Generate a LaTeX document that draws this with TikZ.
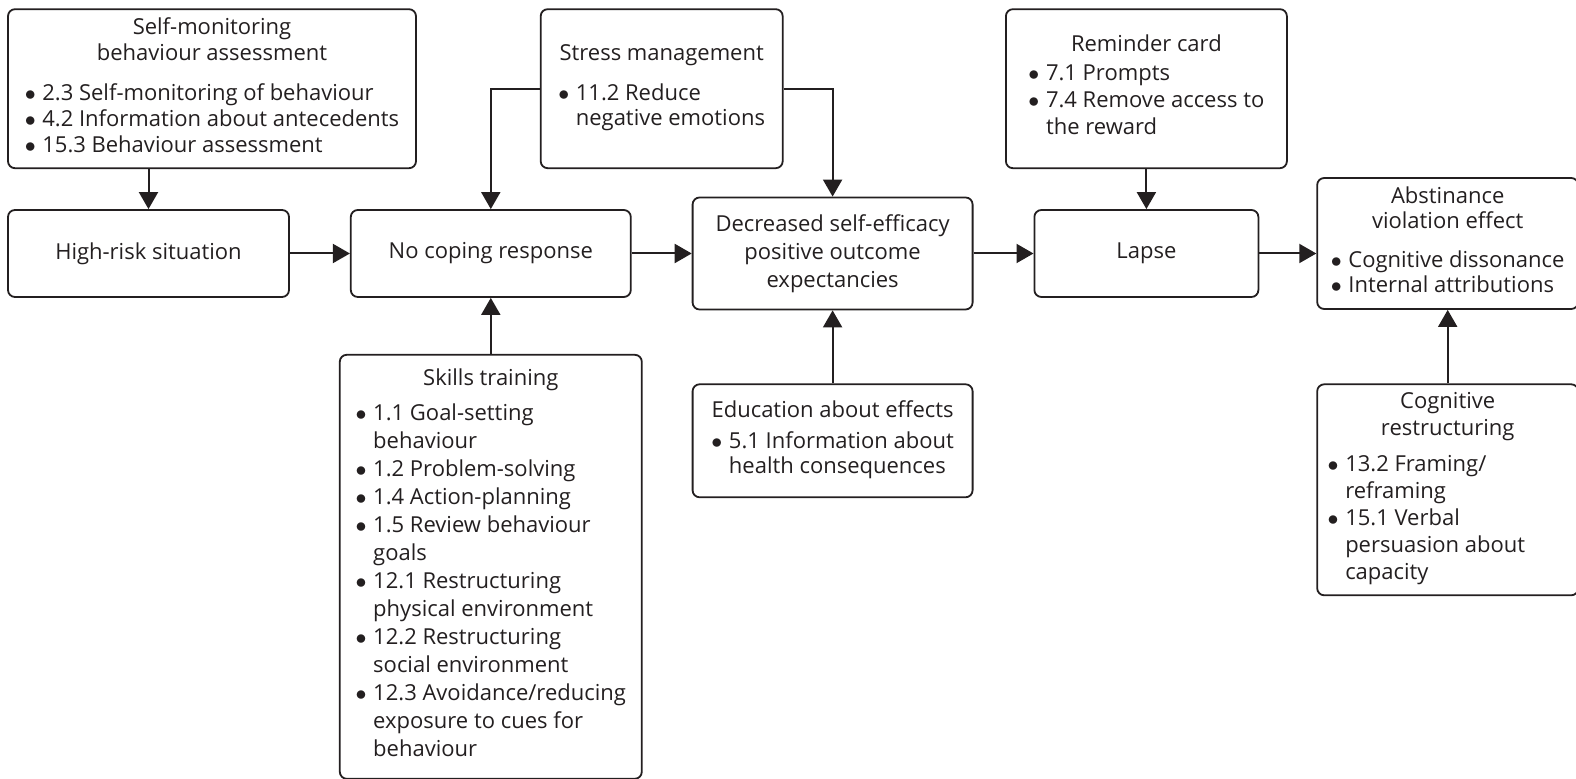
\documentclass[tikz,border=0pt]{standalone}
\usepackage{fontspec}
\setmainfont{Open Sans}
\usetikzlibrary{chains,positioning,arrows.meta,calc}
\definecolor{ink}{HTML}{231F20}
\newcommand{\blist}[1]{\begin{tabular}{@{}l@{\hspace{0.3em}}l@{}}#1\end{tabular}}
\newcommand{\bul}{$\bullet$}

\begin{document}
\begin{tikzpicture}[
  x=0.5pt, y=-0.5pt,
  node distance=30pt,
  start chain=row going right,
  item/.style={draw=ink, line width=0.9pt, rounded corners=3.5pt, align=center, text=ink, inner sep=0pt, font=\fontsize{11}{13.5}\selectfont},
  edge/.style={-{Triangle[length=8.5pt,width=9.5pt]}, line width=1pt, draw=ink}
]
  \useasboundingbox (0,0) rectangle (1576,779);

  % main row
  \node[item,on chain={row placed {at={(148.5,253.5)}}}, minimum width=140.5pt, minimum height=43.5pt] (hrisk) {High-risk situation};
  \node[item,on chain, minimum width=140pt, minimum height=43.5pt] (nocope) {No coping response};
  \node[item,on chain, minimum width=140pt, minimum height=56pt, font=\fontsize{11}{14}\selectfont] (efficacy) {Decreased self-efficacy\\positive outcome\\expectancies};
  \node[item,on chain, minimum width=112pt, minimum height=43.5pt] (lapse) {Lapse};
  \node[item, right=28.5pt of lapse, yshift=5pt, minimum width=130.5pt, minimum height=65.5pt, font=\fontsize{11}{12.5}\selectfont] (abstain) {Abstinance\\violation effect\\[9.5pt]
    \blist{\bul & Cognitive dissonance\\ \bul & Internal attributions}};

  % top row
  \node[item, above=20pt of hrisk.north west, anchor=south west, minimum width=204pt, minimum height=79.5pt, font=\fontsize{11}{13}\selectfont] (selfmon) {Self-monitoring\\behaviour assessment\\[10pt]
    \blist{\bul & 2.3 Self-monitoring of behaviour\\ \bul & 4.2 Information about antecedents\\ \bul & 15.3 Behaviour assessment}};
  \coordinate (stresspos) at ($(nocope.north)!0.5!(efficacy.north)$);
  \node[item, anchor=north, minimum width=121pt, minimum height=79.5pt, font=\fontsize{11}{12.5}\selectfont] (stress) at (selfmon.north -| stresspos) {Stress management\\[8pt]
    \blist{\bul & 11.2 Reduce\\ & negative emotions}};
  \node[item, anchor=north, minimum width=140.5pt, minimum height=79.5pt] (reminder) at (selfmon.north -| lapse.north) {Reminder card\\[4pt]
    \blist{\bul & 7.1 Prompts\\ \bul & 7.4 Remove access to\\ & the reward}};

  % bottom row
  \node[item, below=28pt of nocope, minimum width=151pt, minimum height=212pt, font=\fontsize{11}{14}\selectfont] (skills) {Skills training\\[4pt]
    \blist{\bul & 1.1 Goal-setting\\ & behaviour\\ \bul & 1.2 Problem-solving\\ \bul & 1.4 Action-planning\\
      \bul & 1.5 Review behaviour\\ & goals\\ \bul & 12.1 Restructuring\\ & physical environment\\
      \bul & 12.2 Restructuring\\ & social environment\\ \bul & 12.3 Avoidance/reducing\\ & exposure to cues for\\ & behaviour}};
  \node[item, below=36.5pt of efficacy, minimum width=140pt, minimum height=56.5pt, font=\fontsize{11}{12.5}\selectfont] (educate) {Education about effects\\[6pt]
    \blist{\bul & 5.1 Information about\\ & health consequences}};
  \node[item, anchor=north, minimum width=130.5pt, minimum height=105.5pt, font=\fontsize{11}{13.5}\selectfont] (restructure) at (educate.north -| abstain.south) {Cognitive\\restructuring\\[5pt]
    \makebox[120pt][l]{\blist{\bul & 13.2 Framing/\\ & reframing\\ \bul & 15.1 Verbal\\ & persuasion about\\ & capacity}}};

  \draw[edge] (selfmon.south -| hrisk.north) -- (hrisk.north);
  \draw[edge] (hrisk) -- (nocope);
  \draw[edge] (nocope) -- (efficacy);
  \draw[edge] (efficacy) -- (lapse);
  \draw[edge] (lapse.east) -- (lapse.east -| abstain.west);
  \draw[edge] (stress.west) -| (nocope.north);
  \draw[edge] (stress.east) -| (efficacy.north);
  \draw[edge] (reminder) -- (lapse);
  \draw[edge] (skills) -- (nocope);
  \draw[edge] (educate) -- (efficacy);
  \draw[edge] (restructure) -- (abstain);
\end{tikzpicture}
\end{document}
